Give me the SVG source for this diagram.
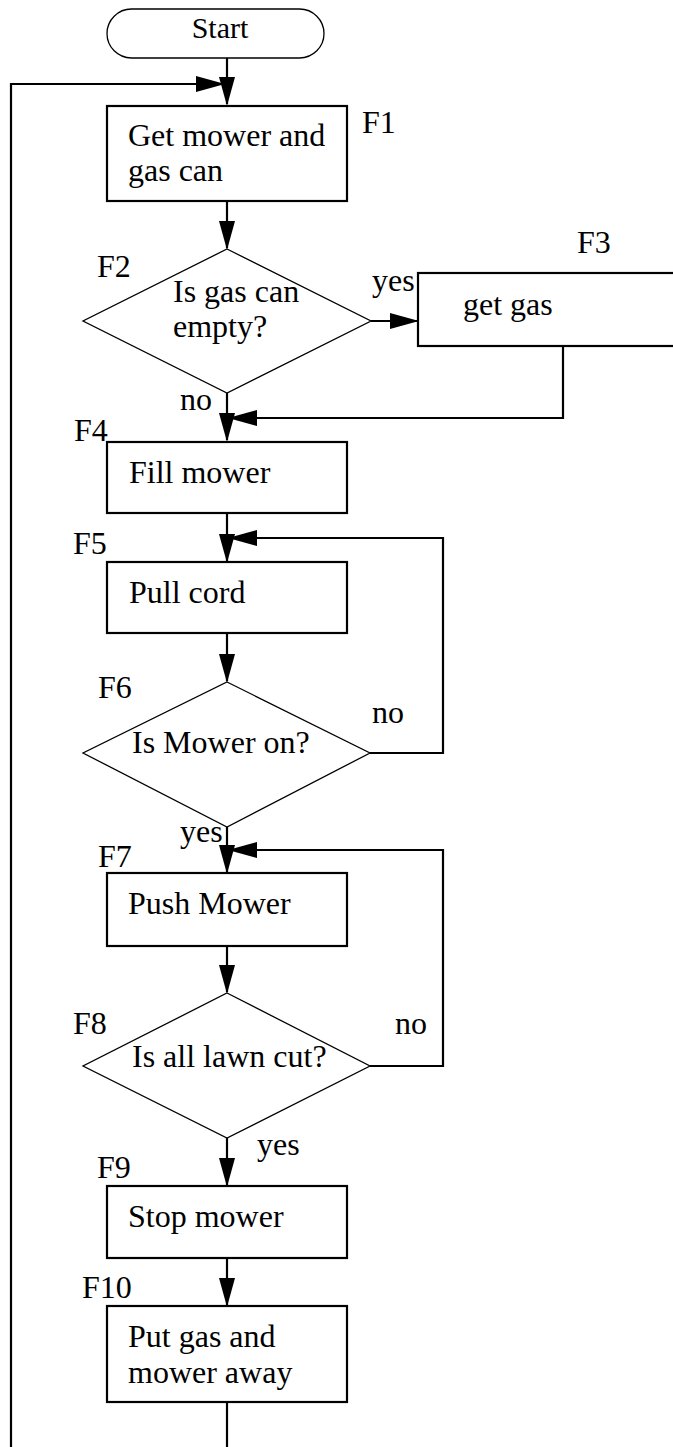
<svg xmlns="http://www.w3.org/2000/svg" width="673" height="1447" viewBox="0 0 673 1447">
<style>
text{font-family:"Liberation Serif","Times New Roman",serif;font-size:32px;fill:#000}
.small{font-size:30px}
.box{fill:#fff;stroke:#000;stroke-width:2.2}
.dia{fill:#fff;stroke:#000;stroke-width:1.3}
.term{fill:#fff;stroke:#000;stroke-width:1.3}
.con{fill:none;stroke:#000;stroke-width:2.2}
.arr{fill:none;stroke:#000;stroke-width:2.2;marker-end:url(#ah)}
</style>
<defs>
<marker id="ah" viewBox="0 0 29 16" refX="27" refY="8" markerWidth="29" markerHeight="16" markerUnits="userSpaceOnUse" orient="auto">
<path d="M0,0 L29,8 L0,16 z" fill="#000"/>
</marker>
</defs>
<g id="connectors">
<path class="arr" d="M227,58 V104"/>
<path class="arr" d="M11,1447 V84 H223"/>
<path class="arr" d="M227,201 V248"/>
<path class="arr" d="M371,321 H417"/>
<path class="arr" d="M563,346 V418 H230"/>
<path class="arr" d="M227,393 V440"/>
<path class="arr" d="M227,513 V561"/>
<path class="arr" d="M370,753 H443 V538 H230"/>
<path class="arr" d="M227,633 V681"/>
<path class="arr" d="M227,827 V872"/>
<path class="arr" d="M370,1066 H443 V850 H230"/>
<path class="arr" d="M227,946 V992"/>
<path class="arr" d="M227,1138 V1185"/>
<path class="arr" d="M227,1258 V1305"/>
<path class="con" d="M227,1402 V1447"/>
</g>
<g id="start">
<rect class="term" x="107" y="9" width="217" height="49" rx="24.5"/>
<text class="small" x="220" y="38" text-anchor="middle">Start</text>
</g>
<g id="F1">
<rect class="box" x="107" y="106" width="240" height="95"/>
<text x="128" y="146">Get mower and</text>
<text x="128" y="181">gas can</text>
<text x="362" y="133">F1</text>
</g>
<g id="F2">
<polygon class="dia" points="227,249 371,321 227,393 83,321"/>
<text x="173" y="302">Is gas can</text>
<text x="173" y="337">empty?</text>
<text x="97" y="277">F2</text>
<text x="372" y="291">yes</text>
<text x="180" y="410">no</text>
</g>
<g id="F3">
<rect class="box" x="418" y="273" width="270" height="73"/>
<text x="463" y="315">get gas</text>
<text x="577" y="253">F3</text>
</g>
<g id="F4">
<rect class="box" x="107" y="442" width="240" height="71"/>
<text x="129" y="483">Fill mower</text>
<text x="74" y="441">F4</text>
</g>
<g id="F5">
<rect class="box" x="107" y="562" width="240" height="71"/>
<text x="129" y="603">Pull cord</text>
<text x="73" y="554">F5</text>
</g>
<g id="F6">
<polygon class="dia" points="227,682 370,753 227,827 83,753"/>
<text x="132" y="753">Is Mower on?</text>
<text x="98" y="698">F6</text>
<text x="372" y="723">no</text>
<text x="180" y="842">yes</text>
</g>
<g id="F7">
<rect class="box" x="107" y="873" width="240" height="73"/>
<text x="128" y="914">Push Mower</text>
<text x="98" y="867">F7</text>
</g>
<g id="F8">
<polygon class="dia" points="227,993 370,1066 227,1138 83,1066"/>
<text x="132" y="1067">Is all lawn cut?</text>
<text x="73" y="1034">F8</text>
<text x="395" y="1034">no</text>
<text x="257" y="1155">yes</text>
</g>
<g id="F9">
<rect class="box" x="107" y="1186" width="240" height="72"/>
<text x="128" y="1227">Stop mower</text>
<text x="97" y="1178">F9</text>
</g>
<g id="F10">
<rect class="box" x="107" y="1306" width="240" height="96"/>
<text x="128" y="1347">Put gas and</text>
<text x="128" y="1383">mower away</text>
<text x="82" y="1298">F10</text>
</g>
</svg>
